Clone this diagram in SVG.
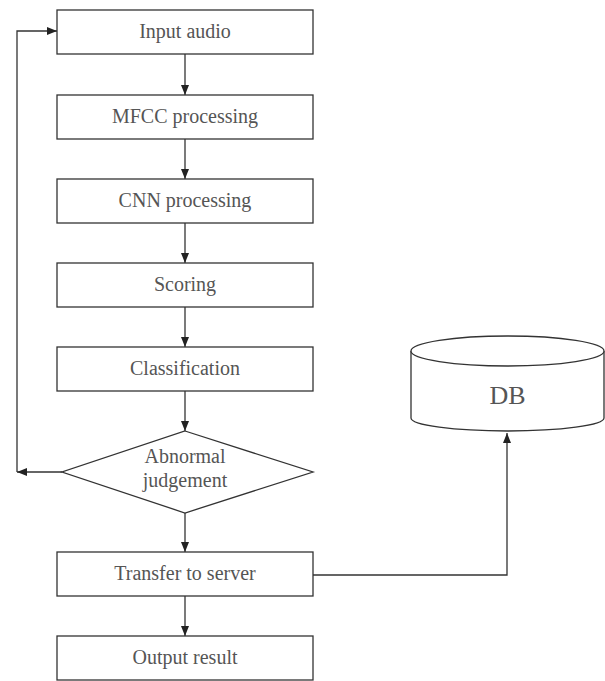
<svg xmlns="http://www.w3.org/2000/svg" width="605" height="681" viewBox="0 0 605 681">
<style>
.box{fill:#fff;stroke:#333;stroke-width:1.3}
.lbl{font-family:"Liberation Serif","Times New Roman",serif;font-size:20px;fill:#555;text-anchor:middle}
.con{fill:none;stroke:#333;stroke-width:1.3}
</style>
<defs>
<marker id="arr" viewBox="0 0 10 8" refX="10" refY="4" markerWidth="10" markerHeight="8" markerUnits="userSpaceOnUse" orient="auto">
<path d="M0,0 L10,4 L0,8 Z" fill="#222"/>
</marker>
</defs>
<rect width="605" height="681" fill="#fff"/>
<g id="connectors">
<path class="con" d="M185,54 V95" marker-end="url(#arr)"/>
<path class="con" d="M185,139 V179" marker-end="url(#arr)"/>
<path class="con" d="M185,223 V263" marker-end="url(#arr)"/>
<path class="con" d="M185,307 V347" marker-end="url(#arr)"/>
<path class="con" d="M185,391 V431" marker-end="url(#arr)"/>
<path class="con" d="M185,513 V552" marker-end="url(#arr)"/>
<path class="con" d="M185,596 V636" marker-end="url(#arr)"/>
<path class="con" d="M62,472 H17" marker-end="url(#arr)"/>
<path class="con" d="M17,472 V31 H57" marker-end="url(#arr)"/>
<path class="con" d="M313,575 H507 V433" marker-end="url(#arr)"/>
</g>
<g id="input-audio"><rect class="box" x="57" y="10" width="256" height="44"/><text class="lbl" x="185" y="38">Input audio</text></g>
<g id="mfcc"><rect class="box" x="57" y="95" width="256" height="44"/><text class="lbl" x="185" y="123">MFCC processing</text></g>
<g id="cnn"><rect class="box" x="57" y="179" width="256" height="44"/><text class="lbl" x="185" y="207">CNN processing</text></g>
<g id="scoring"><rect class="box" x="57" y="263" width="256" height="44"/><text class="lbl" x="185" y="291">Scoring</text></g>
<g id="classification"><rect class="box" x="57" y="347" width="256" height="44"/><text class="lbl" x="185" y="375">Classification</text></g>
<g id="abnormal"><path class="box" d="M185,431 L313,472 L185,513 L62,472 Z"/><text class="lbl" x="185" y="463">Abnormal</text><text class="lbl" x="185" y="487">judgement</text></g>
<g id="transfer"><rect class="box" x="57" y="552" width="256" height="44"/><text class="lbl" x="185" y="580">Transfer to server</text></g>
<g id="output"><rect class="box" x="57" y="636" width="256" height="44"/><text class="lbl" x="185" y="664">Output result</text></g>
<g id="db">
<path class="box" d="M411,351 V418 A96.5,13 0 0 0 604,418 V351"/>
<ellipse class="box" cx="507.5" cy="351" rx="96.5" ry="15"/>
<text class="lbl" x="507.5" y="404" style="font-size:26px">DB</text>
</g>
</svg>
